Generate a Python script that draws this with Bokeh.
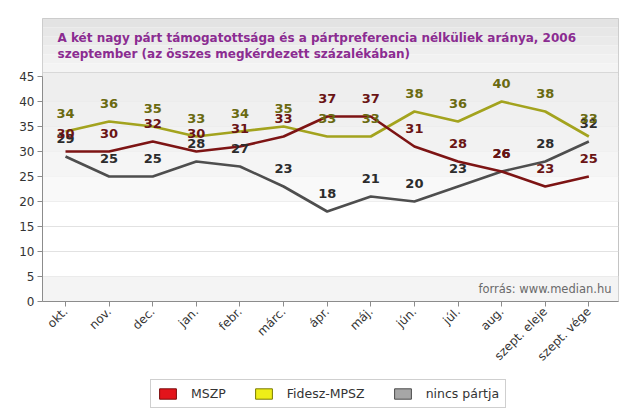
import math
from bokeh.plotting import figure
from bokeh.layouts import column
from bokeh.models import FixedTicker, Label, BoxAnnotation, Legend, LegendItem, Range1d
from bokeh.core.properties import value
from bokeh.embed import file_html
from bokeh.resources import INLINE

# ---- data ----
months = ["okt.", "nov.", "dec.", "jan.", "febr.", "márc.", "ápr.", "máj.",
          "jún.", "júl.", "aug.", "szept. eleje", "szept. vége"]
mszp = [30, 30, 32, 30, 31, 33, 37, 37, 31, 28, 26, 23, 25]
fidesz = [34, 36, 35, 33, 34, 35, 33, 33, 38, 36, 40, 38, 33]
nincs = [29, 25, 25, 28, 27, 23, 18, 21, 20, 23, 26, 28, 32]
series_names = ["MSZP", "Fidesz-MPSZ", "nincs pártja"]
y_ticks = [0, 5, 10, 15, 20, 25, 30, 35, 40, 45]
title_lines = ["A két nagy párt támogatottsága és a pártpreferencia nélküliek aránya, 2006",
               "szeptember (az összes megkérdezett százalékában)"]
source_text = "forrás: www.median.hu"

# ---- styles ----
line_colors = ["#7d1414", "#a3a31e", "#4e4e4e"]
label_colors = ["#6a1414", "#6a6a10", "#2c2c2c"]
icon_fill = ["#e3141b", "#eeee18", "#a6a6a6"]
icon_line = ["#7a0a0a", "#7a7a00", "#4a4a4a"]
FONT = "DejaVu Sans"

PX = 5.0            # pixels per y unit
Y_MAX = 45
Y_TOP = 56.6        # frame top (includes title band)
X_START, X_END = -0.5275, 12.68

xs = list(range(len(months)))

p = figure(frame_width=576, frame_height=283, output_backend="svg", toolbar_location=None,
           x_range=Range1d(X_START, X_END), y_range=Range1d(0, Y_TOP),
           min_border_left=42, min_border_right=10, min_border_top=18,
           min_border_bottom=72)

p.background_fill_color = "#ffffff"
p.border_fill_color = "#ffffff"
p.outline_line_color = "#c4c4c4"
p.outline_line_width = 1

# plot-area shading (light gray fading to white) and title band
plot_shades = [(40, Y_MAX + 0.8, "#eeeeee"), (35, 40, "#f0f0f0"), (30, 35, "#f2f2f2"),
               (25, 30, "#f5f5f5"), (20, 25, "#f9f9f9"), (0, 5, "#f4f4f4")]
for b, t, c in plot_shades:
    p.add_layout(BoxAnnotation(bottom=b, top=t, fill_color=c, fill_alpha=1, line_alpha=0, level="underlay"))
band_colors = ["#e3e3e3", "#e7e7e7", "#eaeaea", "#eeeeee", "#f1f1f1", "#f4f4f4"]
band_bottom = Y_MAX + 0.8
step = (Y_TOP - band_bottom) / len(band_colors)
for i, c in enumerate(band_colors):
    t = Y_TOP - i * step
    p.add_layout(BoxAnnotation(bottom=t - step, top=t, fill_color=c, fill_alpha=1, line_alpha=0, level="underlay"))
p.add_layout(BoxAnnotation(bottom=band_bottom - 0.1, top=band_bottom + 0.1, fill_color="#d8d8d8",
                           fill_alpha=1, line_alpha=0, level="underlay"))

# axes
p.xaxis.ticker = FixedTicker(ticks=xs)
p.xaxis.major_label_overrides = {i: m for i, m in enumerate(months)}
p.xaxis.major_label_orientation = math.pi / 4
p.yaxis.ticker = FixedTicker(ticks=y_ticks)
p.yaxis.bounds = (0, Y_MAX)
for ax in (p.xaxis, p.yaxis):
    ax.axis_line_color = "#8c8c8c"
    ax.major_tick_line_color = "#8c8c8c"
    ax.major_tick_out = 5
    ax.major_tick_in = 0
    ax.minor_tick_line_color = None
    ax.major_label_text_font = FONT
    ax.major_label_text_font_size = "12px"
    ax.major_label_text_color = "#333333"
    ax.major_label_standoff = 3
p.xgrid.grid_line_color = None
p.ygrid.ticker = FixedTicker(ticks=y_ticks[1:])
p.ygrid.grid_line_color = "#e2e2e2"
p.ygrid.grid_line_width = 1

# lines
all_series = [mszp, fidesz, nincs]
order = [2, 1, 0]
for i in order:
    p.line(xs, all_series[i], line_color=line_colors[i], line_width=2.6, line_join="round")
for i in order:
    p.text(xs, all_series[i], text=[str(v) for v in all_series[i]],
           text_font=value(FONT), text_font_size="13px", text_font_style="bold",
           text_color=label_colors[i], text_align="center", text_baseline="middle",
           y_offset=-18)

# title
title_y = [Y_TOP - 19 / PX, Y_TOP - 35 / PX]
for t, yy in zip(title_lines, title_y):
    p.add_layout(Label(x=X_START, y=yy, x_offset=15, text=t, text_font=FONT,
                       text_font_size="12px", text_font_style="bold",
                       text_color="#8b2c91", text_baseline="middle"))

# source
p.add_layout(Label(x=X_END, y=13 / PX, x_offset=-7, text=source_text, text_font=FONT,
                   text_font_size="11.5px", text_color="#6a6a6a",
                   text_align="right", text_baseline="middle"))

# ---- legend strip (separate small figure below the chart) ----
lg = figure(width=628, height=40, output_backend="svg", toolbar_location=None,
            x_axis_location=None, y_axis_location=None, min_border=0,
            x_range=Range1d(0, 1), y_range=Range1d(0, 1))
lg.outline_line_color = None
lg.grid.visible = False
lg.background_fill_color = "#ffffff"
lg.border_fill_color = "#ffffff"
items = []
for i, name in enumerate(series_names):
    # off-range dummy renderer: only its legend swatch is shown
    r = lg.quad(left=[-3], right=[-2], bottom=[-3], top=[-2],
                fill_color=icon_fill[i], line_color=icon_line[i], line_width=1)
    items.append(LegendItem(label=name, renderers=[r]))
legend = Legend(items=items, orientation="horizontal", location=(108, 5),
                border_line_color="#a0a0a0", background_fill_color="#ffffff",
                label_text_font=FONT, label_text_font_size="12.5px",
                label_text_color="#333333", glyph_width=21, glyph_height=13,
                label_standoff=13, spacing=27, padding=6, margin=0)
lg.add_layout(legend, "center")

layout = column(p, lg, spacing=0)
open("out.html", "w").write(file_html(layout, INLINE))
